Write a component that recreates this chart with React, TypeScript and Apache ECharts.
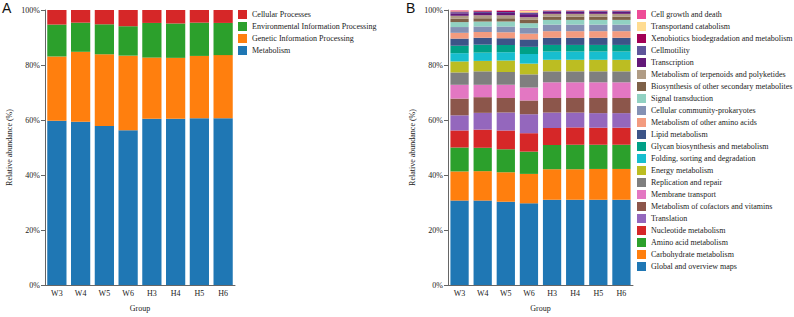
import React, { useEffect, useRef } from "react";
import * as echarts from "echarts";

const groups = ["W3", "W4", "W5", "W6", "H3", "H4", "H5", "H6"];
const yTicks = [0, 20, 40, 60, 80, 100];

// Panel A (level 1), stacked bottom to top
const aNames = ["Metabolism", "Genetic Information Processing", "Environmental Information Processing", "Cellular Processes"];
const aColors = ["#1f77b4", "#ff7f0e", "#2ca02c", "#d62728"];
const aMetabolism = [59.7, 59.4, 57.8, 56.3, 60.5, 60.5, 60.6, 60.6];
const aGenetic = [23.4, 25.4, 26.1, 27.1, 22.2, 22.1, 22.7, 23.0];
const aEnvironmental = [11.6, 10.6, 10.9, 10.7, 12.6, 12.5, 12.1, 11.7];
const aCellular = [5.3, 4.6, 5.2, 5.9, 4.7, 4.9, 4.6, 4.7];
const aValues = [aMetabolism, aGenetic, aEnvironmental, aCellular];

// Panel B (level 2), stacked bottom to top
const bNames = [
  "Global and overview maps",
  "Carbohydrate metabolism",
  "Amino acid metabolism",
  "Nucleotide metabolism",
  "Translation",
  "Metabolism of cofactors and vitamins",
  "Membrane transport",
  "Replication and repair",
  "Energy metabolism",
  "Folding, sorting and degradation",
  "Glycan biosynthesis and metabolism",
  "Lipid metabolism",
  "Metabolism of other amino acids",
  "Cellular community-prokaryotes",
  "Signal transduction",
  "Biosynthesis of other secondary metabolites",
  "Metabolism of terpenoids and polyketides",
  "Transcription",
  "Cellmotility",
  "Xenobiotics biodegradation and metabolism",
  "Transportand catabolism",
  "Cell growth and death",
];
const bColors = [
  "#1f77b4", "#ff7f0e", "#2ca02c", "#d62728", "#9467bd", "#8c564b", "#e377c2",
  "#7f7f7f", "#bcbd22", "#17becf", "#00a087", "#3c5488", "#f39b7f", "#8491b4",
  "#91d1c2", "#7e6148", "#b09c85", "#631879", "#5f559b", "#a20056", "#ffdc91", "#ee4c97",
];
const bGlobal = [30.7, 30.7, 30.3, 29.7, 31.0, 31.0, 31.0, 31.0];
const bCarbohydrate = [10.6, 10.7, 10.7, 10.7, 11.1, 11.1, 11.2, 11.2];
const bAminoAcid = [8.7, 8.5, 8.4, 8.1, 8.8, 8.9, 8.8, 8.8];
const bNucleotide = [6.2, 6.6, 6.8, 6.7, 6.2, 6.3, 6.2, 6.2];
const bTranslation = [5.5, 6.1, 6.5, 6.9, 5.6, 5.4, 5.3, 5.3];
const bCofactors = [6.1, 5.7, 5.3, 5.0, 5.3, 5.3, 5.5, 5.5];
const bMembrane = [5.0, 4.5, 4.8, 4.7, 5.7, 5.7, 5.7, 5.7];
const bReplication = [4.5, 4.9, 4.7, 4.8, 4.0, 4.0, 4.0, 4.0];
const bEnergy = [4.0, 3.8, 4.1, 3.9, 4.2, 4.2, 4.2, 4.2];
const bFolding = [3.0, 3.0, 3.0, 3.5, 3.0, 3.0, 3.0, 3.0];
const bGlycan = [2.7, 2.9, 2.7, 2.6, 2.4, 2.4, 2.4, 2.4];
const bLipid = [2.6, 2.5, 2.4, 2.7, 2.6, 2.6, 2.6, 2.6];
const bOtherAA = [2.1, 2.1, 2.2, 2.1, 2.4, 2.4, 2.4, 2.4];
const bCellComm = [2.1, 2.0, 2.1, 2.1, 2.4, 2.4, 2.4, 2.4];
const bSignal = [1.8, 1.8, 1.8, 1.7, 1.7, 1.7, 1.7, 1.7];
const bBiosynth = [1.2, 1.2, 1.2, 1.2, 1.2, 1.2, 1.2, 1.2];
const bTerpenoid = [1.1, 1.1, 1.1, 1.0, 1.0, 1.0, 1.0, 1.0];
const bTranscription = [0.9, 0.8, 0.8, 1.1, 0.7, 0.7, 0.7, 0.7];
const bCellmotility = [0.4, 0.4, 0.4, 0.4, 0.3, 0.3, 0.3, 0.3];
const bXenobiotics = [0.3, 0.3, 0.3, 0.2, 0.15, 0.15, 0.15, 0.15];
const bTransport = [0.3, 0.25, 0.25, 0.7, 0.15, 0.15, 0.15, 0.15];
const bCellGrowth = [0.2, 0.15, 0.15, 0.2, 0.1, 0.1, 0.1, 0.1];
const bValues = [
  bGlobal, bCarbohydrate, bAminoAcid, bNucleotide, bTranslation, bCofactors, bMembrane,
  bReplication, bEnergy, bFolding, bGlycan, bLipid, bOtherAA, bCellComm, bSignal,
  bBiosynth, bTerpenoid, bTranscription, bCellmotility, bXenobiotics, bTransport, bCellGrowth,
];

const SERIF = "Liberation Serif";
const AXIS_COLOR = "#666";
const TEXT_COLOR = "#222";

function makeXAxis(gridIndex: number) {
  return {
    type: "category",
    gridIndex,
    data: groups,
    name: "Group",
    nameLocation: "middle",
    nameGap: 19,
    nameTextStyle: { fontFamily: SERIF, fontSize: 8, color: TEXT_COLOR },
    axisLine: { lineStyle: { color: AXIS_COLOR, width: 1 } },
    axisTick: { alignWithLabel: true, length: 3, lineStyle: { color: AXIS_COLOR } },
    axisLabel: { fontFamily: SERIF, fontSize: 8, color: TEXT_COLOR, margin: 4 },
  };
}

function makeYAxis(gridIndex: number) {
  return {
    type: "value",
    gridIndex,
    min: 0,
    max: 100,
    interval: 20,
    name: "Relative abundance (%)",
    nameLocation: "middle",
    nameGap: 32,
    nameTextStyle: { fontFamily: SERIF, fontSize: 8, color: TEXT_COLOR },
    axisLine: { show: true, lineStyle: { color: AXIS_COLOR, width: 1 } },
    axisTick: { show: true, length: 4, lineStyle: { color: AXIS_COLOR } },
    axisLabel: {
      fontFamily: SERIF,
      fontSize: 8,
      color: TEXT_COLOR,
      margin: 5,
      formatter: (v: number) => (yTicks.includes(v) ? v + "%" : ""),
    },
    splitLine: { show: false },
  };
}

export default function App() {
  const ref = useRef<HTMLDivElement>(null);
  useEffect(() => {
    if (!ref.current) return;
    const chart = echarts.init(ref.current, undefined, { renderer: "svg" });
    const seriesA = aNames.map((name, i) => ({
      name,
      type: "bar",
      stack: "a",
      xAxisIndex: 0,
      yAxisIndex: 0,
      barCategoryGap: "19%",
      itemStyle: { color: aColors[i] },
      data: aValues[i],
    }));
    const seriesB = bNames.map((name, i) => ({
      name,
      type: "bar",
      stack: "b",
      xAxisIndex: 1,
      yAxisIndex: 1,
      barCategoryGap: "21%",
      itemStyle: { color: bColors[i] },
      data: bValues[i],
    }));
    chart.setOption({
      animation: false,
      backgroundColor: "#fff",
      grid: [
        { left: 45, top: 10, width: 190, height: 281.5 },
        { left: 448, top: 10, width: 185, height: 281.5 },
      ],
      xAxis: [makeXAxis(0), makeXAxis(1)],
      yAxis: [makeYAxis(0), makeYAxis(1)],
      legend: [
        {
          data: [...aNames].reverse(),
          orient: "vertical",
          left: 238,
          top: 10,
          padding: 0,
          itemWidth: 9,
          itemHeight: 9,
          itemGap: 3,
          icon: "rect",
          textStyle: { fontFamily: SERIF, fontSize: 8, color: TEXT_COLOR },
          selectedMode: false,
        },
        {
          data: [...bNames].reverse(),
          orient: "vertical",
          left: 637,
          top: 10,
          padding: 0,
          itemWidth: 9,
          itemHeight: 9,
          itemGap: 3,
          icon: "rect",
          textStyle: { fontFamily: SERIF, fontSize: 8, color: TEXT_COLOR },
          selectedMode: false,
        },
      ],
      graphic: [
        { type: "text", left: 2, top: 1, style: { text: "A", fontSize: 14, fontFamily: "Liberation Sans", fill: "#111" } },
        { type: "text", left: 406, top: 1, style: { text: "B", fontSize: 14, fontFamily: "Liberation Sans", fill: "#111" } },
      ],
      series: [...seriesA, ...seriesB],
    });
    return () => chart.dispose();
  }, []);
  return (
    <div
      ref={ref}
      style={{ position: "fixed", left: 0, top: 0, width: 794, height: 317, background: "#fff" }}
    />
  );
}
